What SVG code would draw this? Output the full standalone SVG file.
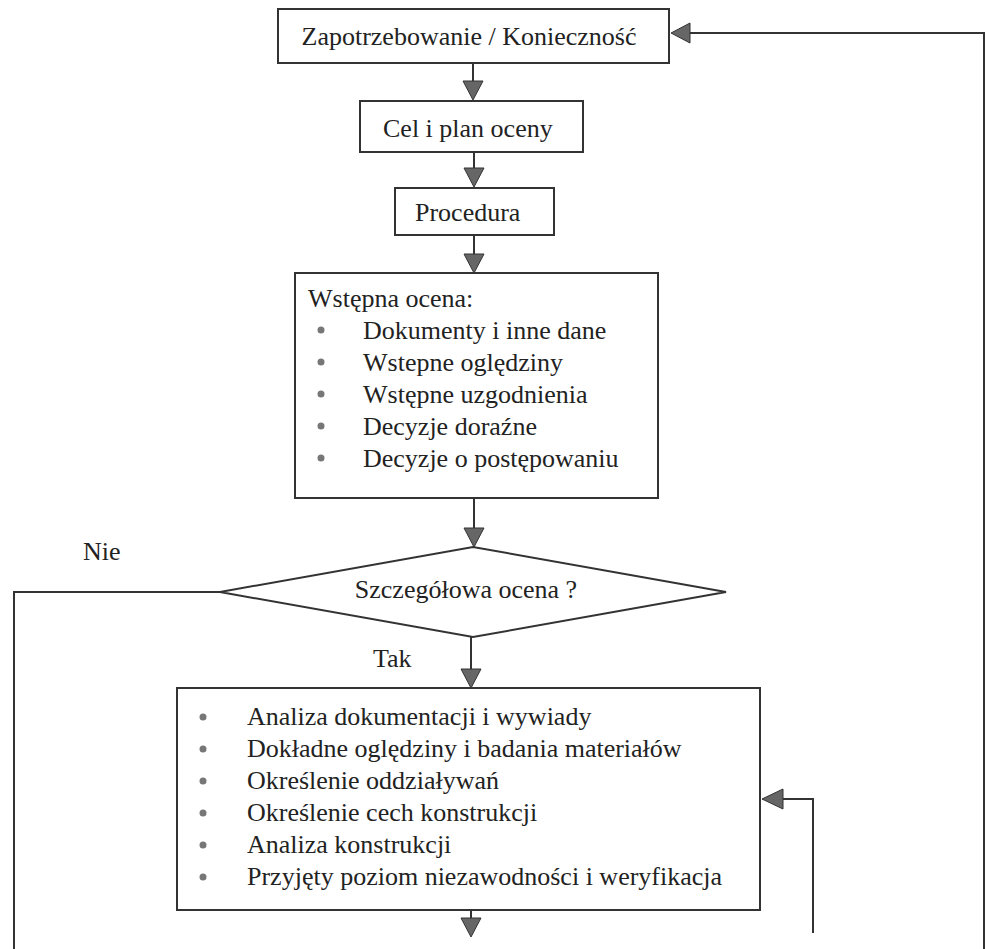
<svg xmlns="http://www.w3.org/2000/svg" width="986" height="949" viewBox="0 0 986 949">
<style>
  .box{fill:#fff;stroke:#333;stroke-width:2}
  .t{font-family:"Liberation Serif","Times New Roman",serif;font-size:26px;fill:#222}
  .c{text-anchor:middle}
  .ln{fill:none;stroke:#333;stroke-width:2}
  .bul{fill:#777}
  .ah{fill:#666;stroke:#333;stroke-width:1}
</style>
<rect width="986" height="949" fill="#fff"/>
<g id="connectors">
  <line class="ln" x1="473" y1="63" x2="473" y2="82"/>
  <polygon class="ah" points="463,81 483,81 473,100"/>
  <line class="ln" x1="474" y1="152" x2="474" y2="169"/>
  <polygon class="ah" points="464,168 484,168 474,187"/>
  <line class="ln" x1="474" y1="235" x2="474" y2="255"/>
  <polygon class="ah" points="464,254 484,254 474,273"/>
  <line class="ln" x1="474" y1="498" x2="474" y2="529"/>
  <polygon class="ah" points="464,528 484,528 474,547"/>
  <line class="ln" x1="471" y1="637" x2="471" y2="670"/>
  <polygon class="ah" points="461,669 481,669 471,688"/>
  <line class="ln" x1="471" y1="910" x2="471" y2="919"/>
  <polygon class="ah" points="461,918 481,918 471,937"/>
  <polyline class="ln" points="220,592 14,592 14,949"/>
  <polyline class="ln" points="813,933 813,799 782,799"/>
  <polygon class="ah" points="783,789 783,809 762,799"/>
  <polyline class="ln" points="984,949 984,33 689,33"/>
  <polygon class="ah" points="690,23 690,43 671,33"/>
  <text class="t" x="83" y="560">Nie</text>
  <text class="t" x="373" y="667">Tak</text>
</g>
<g id="n1">
  <rect class="box" x="278" y="9" width="391" height="54"/>
  <text class="t c" x="469" y="45">Zapotrzebowanie / Konieczność</text>
</g>
<g id="n2">
  <rect class="box" x="360" y="101" width="223" height="51"/>
  <text class="t" x="383" y="137">Cel i plan oceny</text>
</g>
<g id="n3">
  <rect class="box" x="395" y="188" width="159" height="47"/>
  <text class="t" x="415" y="221">Procedura</text>
</g>
<g id="n4">
  <rect class="box" x="295" y="273" width="363" height="225"/>
  <text class="t" x="308" y="307">Wstępna ocena:</text>
  <circle class="bul" cx="321" cy="330" r="3.5"/>
  <text class="t" x="363" y="339">Dokumenty i inne dane</text>
  <circle class="bul" cx="321" cy="362" r="3.5"/>
  <text class="t" x="363" y="371">Wstepne oględziny</text>
  <circle class="bul" cx="321" cy="394" r="3.5"/>
  <text class="t" x="363" y="403">Wstępne uzgodnienia</text>
  <circle class="bul" cx="321" cy="426" r="3.5"/>
  <text class="t" x="363" y="435">Decyzje doraźne</text>
  <circle class="bul" cx="321" cy="458" r="3.5"/>
  <text class="t" x="363" y="467">Decyzje o postępowaniu</text>
</g>
<g id="n5">
  <polygon class="box" points="220,592 473,547 726,592 473,637"/>
  <text class="t c" x="466" y="598">Szczegółowa ocena ?</text>
</g>
<g id="n6">
  <rect class="box" x="177" y="688" width="583" height="222"/>
  <circle class="bul" cx="203" cy="717" r="3.5"/>
  <text class="t" x="247" y="725">Analiza dokumentacji i wywiady</text>
  <circle class="bul" cx="203" cy="749" r="3.5"/>
  <text class="t" x="247" y="757">Dokładne oględziny i badania materiałów</text>
  <circle class="bul" cx="203" cy="781" r="3.5"/>
  <text class="t" x="247" y="789">Określenie oddziaływań</text>
  <circle class="bul" cx="203" cy="813" r="3.5"/>
  <text class="t" x="247" y="821">Określenie cech konstrukcji</text>
  <circle class="bul" cx="203" cy="845" r="3.5"/>
  <text class="t" x="247" y="853">Analiza konstrukcji</text>
  <circle class="bul" cx="203" cy="877" r="3.5"/>
  <text class="t" x="247" y="885">Przyjęty poziom niezawodności i weryfikacja</text>
</g>
</svg>
